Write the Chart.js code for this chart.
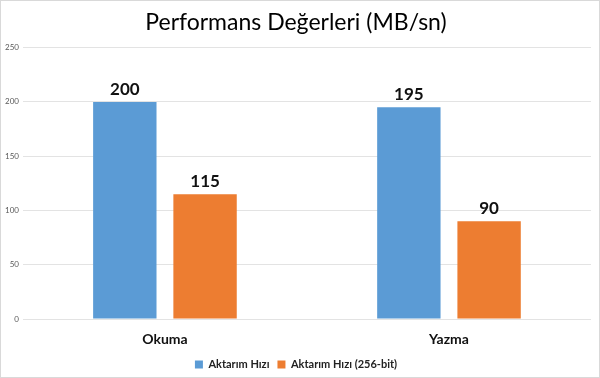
<!DOCTYPE html>
<html>
<head>
<meta charset="utf-8">
<script src="https://cdn.jsdelivr.net/npm/chart.js@4/dist/chart.umd.min.js"></script>
<style>
  html, body { margin: 0; padding: 0; background: #fff; }
  #wrap { width: 598px; height: 376px; border: 1px solid #d9d9d9; }
</style>
</head>
<body>
<div id="wrap"><canvas id="perfChart" width="598" height="376"></canvas></div>
<script>
const categories = ['Okuma', 'Yazma'];
const seriesNames = ['Aktarım Hızı', 'Aktarım Hızı (256-bit)'];
const transferSpeed = [200, 195];
const transferSpeed256 = [115, 90];
const yTicks = [0, 50, 100, 150, 200, 250];

const FONT = 'Lato, "Open Sans", sans-serif';

// draws the value above each bar, like Excel data labels
const barValueLabels = {
  id: 'barValueLabels',
  afterDatasetsDraw(chart) {
    const { ctx } = chart;
    ctx.save();
    ctx.font = 'bold 17px ' + FONT;
    ctx.fillStyle = '#111';
    ctx.textAlign = 'center';
    ctx.textBaseline = 'bottom';
    chart.data.datasets.forEach((ds, i) => {
      chart.getDatasetMeta(i).data.forEach((bar, j) => {
        ctx.fillText(ds.data[j], bar.x, bar.y - 4);
      });
    });
    ctx.restore();
  },
};

new Chart(document.getElementById('perfChart').getContext('2d'), {
  type: 'bar',
  data: {
    labels: categories,
    datasets: [
      {
        label: seriesNames[0],
        data: transferSpeed,
        backgroundColor: '#5B9BD5',
        barPercentage: 0.79,
        categoryPercentage: 0.565,
      },
      {
        label: seriesNames[1],
        data: transferSpeed256,
        backgroundColor: '#ED7D31',
        barPercentage: 0.79,
        categoryPercentage: 0.565,
      },
    ],
  },
  options: {
    responsive: false,
    animation: false,
    // legend sits close to the bottom edge, so part of its lower padding runs off the canvas
    layout: { padding: { left: 0, right: 8, top: 6, bottom: -3 } },
    plugins: {
      title: {
        display: true,
        text: 'Performans Değerleri (MB/sn)',
        color: '#000',
        font: { family: FONT, size: 23, weight: 'normal' },
        padding: { top: 2, bottom: 11 },
      },
      legend: {
        position: 'bottom',
        labels: {
          boxWidth: 8,
          boxHeight: 8,
          color: '#222',
          font: { family: FONT, size: 11, weight: 'bold' },
          padding: 8,
        },
      },
      tooltip: { enabled: false },
    },
    scales: {
      x: {
        grid: { display: false },
        border: { display: false },
        ticks: {
          color: '#111',
          font: { family: FONT, size: 14, weight: 'bold', lineHeight: 1 },
          padding: 5,
        },
      },
      y: {
        min: 0,
        max: 250,
        afterBuildTicks(axis) {
          axis.ticks = yTicks.map(v => ({ value: v }));
        },
        grid: { color: '#e3e3e3', drawTicks: false },
        border: { display: false },
        ticks: {
          color: '#595959',
          font: { family: FONT, size: 8 },
          padding: 4,
        },
      },
    },
  },
  plugins: [barValueLabels],
});
</script>
</body>
</html>
